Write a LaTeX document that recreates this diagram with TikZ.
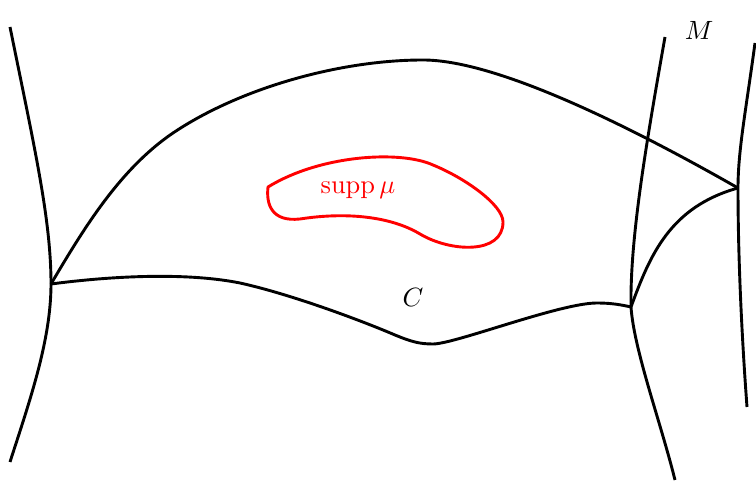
\documentclass[tikz,border=0pt]{standalone}
\usepackage{amsmath,amssymb}
\usepackage{tikz}
\usetikzlibrary{positioning,calc}

\begin{document}
\begin{tikzpicture}[
  x=0.0133cm, y=-0.0133cm,
  curve/.style={line width=1.1pt, line join=round},
  supp/.style={curve, color=red},
  lbl/.style={inner sep=1pt}
]
\useasboundingbox (0,0) rectangle (756,484);

% Junction points
\coordinate (P) at (51,284);
\coordinate (Q) at (631,307);
\coordinate (R) at (738,188);

% Leaves of M
\draw[curve] (10,27) .. controls (35,150) and (51,220) .. (P)
  .. controls (51,340) and (30,400) .. (10,462);
\draw[curve] (665,37) .. controls (645,150) and (630,240) .. (Q)
  .. controls (634,350) and (660,420) .. (675,480);
\draw[curve] (755,43) .. controls (746,110) and (738,150) .. (R)
  .. controls (738,260) and (742,340) .. (747,407);

% The surface C
\draw[curve] (P) .. controls (84,228) and (120,169) .. (173,133)
  .. controls (240,88) and (340,60) .. (423,60)
  .. controls (490,60) and (610,115) .. (R);
\draw[curve] (P) .. controls (120,275) and (190,273) .. (240,283)
  .. controls (290,294) and (360,320) .. (395,335)
  .. controls (412,342) and (420,344) .. (433,344)
  .. controls (455,344) and (560,303) .. (597,303)
  .. controls (612,303) and (622,305) .. (Q);
\draw[curve] (Q) .. controls (650,255) and (670,207) .. (R);

% Support of mu
\draw[supp] (268,187) .. controls (266,205) and (272,222) .. (300,219)
  .. controls (345,212) and (390,216) .. (420,234)
  .. controls (450,252) and (503,255) .. (503,222)
  .. controls (503,205) and (465,178) .. (433,165)
  .. controls (400,150) and (320,155) .. cycle;

% Labels
\node[lbl, red] (suppmu) at (358,190) {$\operatorname{supp}\mu$};
\node[lbl] (Clbl) at (413,297) {$C$};
\node[lbl] (Mlbl) at (699,30) {$M$};
\end{tikzpicture}
\end{document}
